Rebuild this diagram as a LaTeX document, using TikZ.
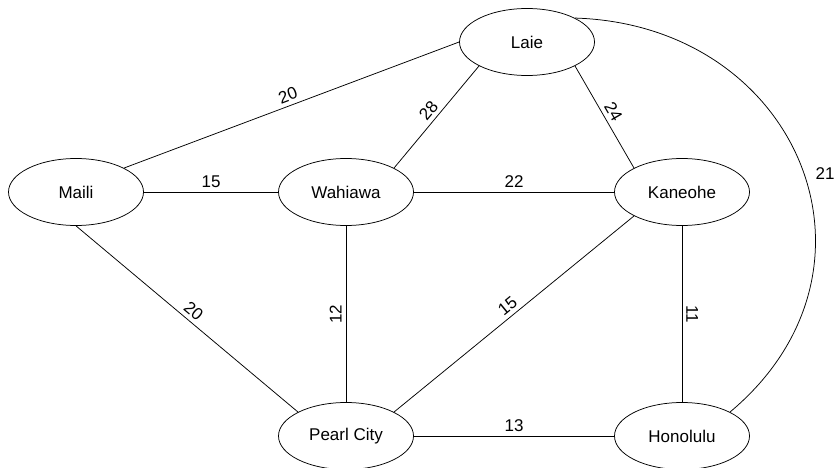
\documentclass[tikz,border=0pt]{standalone}
\usepackage{fontspec}
\setmainfont{Liberation Sans}
\usetikzlibrary{shapes.geometric}
\begin{document}
\begin{tikzpicture}[x=1pt,y=-1pt,
  city/.style={ellipse, draw, line width=0.75pt, minimum width=135pt, minimum height=67pt, inner sep=0pt, font=\fontsize{17}{20}\selectfont},
  road/.style={draw, line width=0.75pt},
  wt/.style={font=\fontsize{17}{20}\selectfont, inner sep=4pt}]
\useasboundingbox (0,0) rectangle (835,468);
\node[city] (laie) at (527,42) {Laie};
\node[city] (maili) at (76,192) {Maili};
\node[city] (wahiawa) at (346,192) {Wahiawa};
\node[city] (kaneohe) at (682,192) {Kaneohe};
\node[city] (pearl) at (346,436) {Pearl City};
\node[city] (honolulu) at (682,436) {Honolulu};
\draw[road] (maili.north east) -- node[wt, midway, above, sloped] {20} (laie.west);
\draw[road] (wahiawa.north east) -- node[wt, midway, above, sloped] {28} (laie.south west);
\draw[road] (laie.south east) -- node[wt, midway, above, sloped] {24} (kaneohe.north west);
\draw[road] (maili.east) -- node[wt, midway, above] {15} (wahiawa.west);
\draw[road] (wahiawa.east) -- node[wt, midway, above] {22} (kaneohe.west);
\draw[road] (maili.south) -- node[wt, midway, above, sloped] {20} (pearl.north west);
\draw[road] (wahiawa.south) -- node[wt, midway, rotate=90, anchor=south] {12} (pearl.north);
\draw[road] (pearl.north east) -- node[wt, midway, above, sloped] {15} (kaneohe.south west);
\draw[road] (kaneohe.south) -- node[wt, midway, rotate=-90, anchor=south] {11} (honolulu.north);
\draw[road] (pearl.east) -- node[wt, midway, above] {13} (honolulu.west);
\draw[road] (laie.north east) .. controls (800,25) and (900,270) .. node[wt, pos=0.52, anchor=west, xshift=7pt] {21} (honolulu.north east);
\end{tikzpicture}
\end{document}
